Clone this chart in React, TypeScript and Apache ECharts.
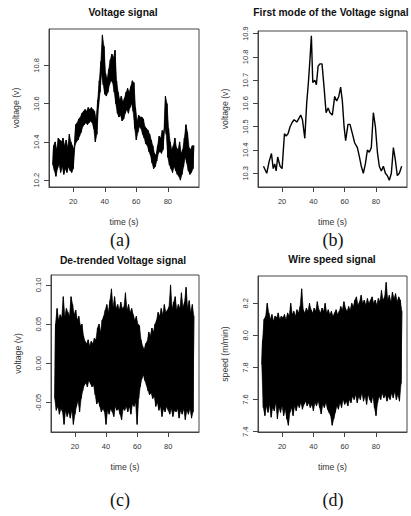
import React, { useEffect, useRef } from "react";
import * as echarts from "echarts";

// first second of the per-second envelopes (t = 7 ... 96)
const T0 = 7;

// (a) Voltage signal: per-second low / high of the noisy trace
const VOLT_LO = [
  10.28, 10.25, 10.22, 10.26, 10.28, 10.24, 10.27, 10.23, 10.26, 10.24,
  10.27, 10.25, 10.24, 10.26, 10.38, 10.40, 10.41, 10.43, 10.45, 10.48,
  10.49, 10.50, 10.49, 10.50, 10.51, 10.50, 10.47, 10.40, 10.44, 10.58,
  10.66, 10.76, 10.70, 10.65, 10.64, 10.66, 10.70, 10.72, 10.71, 10.66,
  10.60, 10.55, 10.53, 10.54, 10.51, 10.52, 10.55, 10.57, 10.55, 10.58,
  10.60, 10.56, 10.47, 10.41, 10.45, 10.48, 10.47, 10.44, 10.42, 10.39,
  10.38, 10.35, 10.33, 10.29, 10.26, 10.27, 10.30, 10.34, 10.35, 10.34,
  10.36, 10.48, 10.44, 10.32, 10.28, 10.26, 10.24, 10.27, 10.25, 10.23,
  10.22, 10.20, 10.23, 10.27, 10.32, 10.29, 10.25, 10.23, 10.24, 10.26,
];
const VOLT_HI = [
  10.38, 10.40, 10.36, 10.42, 10.41, 10.40, 10.42, 10.38, 10.41, 10.37,
  10.44, 10.40, 10.38, 10.36, 10.49, 10.50, 10.52, 10.53, 10.55, 10.56,
  10.57, 10.56, 10.58, 10.57, 10.58, 10.57, 10.56, 10.52, 10.62, 10.72,
  10.82, 10.96, 10.90, 10.76, 10.73, 10.78, 10.83, 10.86, 10.84, 10.88,
  10.72, 10.66, 10.62, 10.64, 10.61, 10.63, 10.66, 10.68, 10.66, 10.69,
  10.72, 10.71, 10.58, 10.51, 10.54, 10.53, 10.53, 10.52, 10.48, 10.47,
  10.46, 10.44, 10.41, 10.38, 10.34, 10.33, 10.38, 10.43, 10.42, 10.46,
  10.45, 10.64, 10.60, 10.47, 10.40, 10.36, 10.38, 10.42, 10.37, 10.36,
  10.40, 10.34, 10.36, 10.42, 10.49, 10.45, 10.37, 10.36, 10.38, 10.38,
];

// (b) First mode of the voltage signal
const MODE_T = [
  8.1, 10.2, 11.7, 13.2, 14.3, 15.3, 16.2, 17.2, 18.7, 20, 21.5, 22.6, 23.8,
  25.1, 26.6, 27.7, 29.4, 31.9, 33, 34.5, 35.7, 36.8, 37.9, 38.7, 39.6, 40.9,
  41.9, 43, 44.3, 45.5, 46.8, 48.1, 49.4, 50.6, 52.1, 53.6, 54.9, 56.2, 57.4,
  58.5, 59.6, 60.6, 62.1, 63.4, 64.9, 66.4, 68.1, 69.4, 70.6, 71.9, 73.2,
  74.5, 75.7, 77, 78.3, 79.6, 80.9, 82.1, 83.4, 84.7, 86, 87.2, 88.5, 89.8,
  91.1, 92.3, 93.6, 94.9, 96.4,
];
const MODE_V = [
  10.33, 10.30, 10.35, 10.385, 10.32, 10.34, 10.31, 10.37, 10.33, 10.32,
  10.47, 10.46, 10.47, 10.50, 10.52, 10.53, 10.52, 10.55, 10.53, 10.45,
  10.60, 10.69, 10.80, 10.89, 10.69, 10.70, 10.68, 10.76, 10.77, 10.77,
  10.67, 10.56, 10.58, 10.56, 10.55, 10.63, 10.61, 10.63, 10.67, 10.61,
  10.50, 10.44, 10.51, 10.51, 10.47, 10.43, 10.41, 10.37, 10.33, 10.30,
  10.34, 10.40, 10.39, 10.41, 10.56, 10.50, 10.39, 10.33, 10.31, 10.33,
  10.30, 10.29, 10.27, 10.30, 10.41, 10.36, 10.29, 10.30, 10.33,
];

// (c) De-trended voltage signal: per-second low / high
const DET_LO = [
  -0.045, -0.060, -0.055, -0.065, -0.058, -0.062, -0.078, -0.060, -0.068, -0.062,
  -0.070, -0.060, -0.078, -0.065, -0.055, -0.048, -0.062, -0.045, -0.035, -0.028,
  -0.025, -0.030, -0.022, -0.026, -0.030, -0.028, -0.040, -0.052, -0.048, -0.055,
  -0.062, -0.058, -0.062, -0.078, -0.060, -0.065, -0.058, -0.062, -0.068, -0.055,
  -0.060, -0.058, -0.065, -0.072, -0.058, -0.060, -0.055, -0.062, -0.055, -0.065,
  -0.052, -0.055, -0.050, -0.078, -0.045, -0.030, -0.020, -0.015, -0.022, -0.028,
  -0.035, -0.040, -0.038, -0.045, -0.042, -0.055, -0.050, -0.060, -0.055, -0.068,
  -0.058, -0.062, -0.055, -0.060, -0.065, -0.058, -0.068, -0.060, -0.062, -0.058,
  -0.070, -0.060, -0.065, -0.058, -0.072, -0.060, -0.065, -0.058, -0.070, -0.062,
];
const DET_HI = [
  0.050, 0.070, 0.055, 0.062, 0.058, 0.085, 0.060, 0.070, 0.065, 0.060,
  0.085, 0.075, 0.062, 0.068, 0.055, 0.060, 0.048, 0.050, 0.035, 0.028,
  0.025, 0.030, 0.022, 0.028, 0.025, 0.032, 0.030, 0.045, 0.050, 0.040,
  0.055, 0.060, 0.068, 0.075, 0.065, 0.080, 0.095, 0.072, 0.085, 0.070,
  0.075, 0.068, 0.078, 0.070, 0.072, 0.090, 0.068, 0.075, 0.065, 0.070,
  0.062, 0.055, 0.060, 0.050, 0.048, 0.030, 0.022, 0.018, 0.025, 0.028,
  0.040, 0.035, 0.045, 0.040, 0.050, 0.055, 0.065, 0.060, 0.070, 0.062,
  0.075, 0.065, 0.068, 0.072, 0.100, 0.070, 0.078, 0.085, 0.068, 0.075,
  0.070, 0.090, 0.072, 0.078, 0.097, 0.070, 0.080, 0.065, 0.075, 0.060,
];

// (d) Wire speed signal: per-second low / high
const SPD_LO = [
  7.82, 7.55, 7.50, 7.56, 7.52, 7.57, 7.49, 7.55, 7.53, 7.58,
  7.48, 7.55, 7.52, 7.56, 7.50, 7.54, 7.48, 7.44, 7.52, 7.55,
  7.50, 7.56, 7.53, 7.57, 7.55, 7.58, 7.54, 7.57, 7.59, 7.56,
  7.58, 7.55, 7.57, 7.53, 7.58, 7.56, 7.59, 7.55, 7.51, 7.57,
  7.55, 7.58, 7.54, 7.52, 7.50, 7.44, 7.48, 7.52, 7.56, 7.54,
  7.58, 7.55, 7.60, 7.57, 7.59, 7.56, 7.60, 7.58, 7.62, 7.60,
  7.63, 7.58, 7.62, 7.60, 7.64, 7.59, 7.62, 7.57, 7.63, 7.60,
  7.58, 7.62, 7.55, 7.50, 7.58, 7.62, 7.60, 7.64, 7.61, 7.63,
  7.59, 7.62, 7.60, 7.64, 7.61, 7.65, 7.60, 7.63, 7.59, 7.70,
];
const SPD_HI = [
  7.97, 8.10, 8.12, 8.20, 8.14, 8.10, 8.13, 8.09, 8.12, 8.11,
  8.14, 8.10, 8.12, 8.11, 8.13, 8.10, 8.14, 8.12, 8.20, 8.13,
  8.15, 8.12, 8.16, 8.14, 8.18, 8.29, 8.16, 8.14, 8.17, 8.15,
  8.20, 8.16, 8.14, 8.17, 8.15, 8.21, 8.16, 8.14, 8.17, 8.15,
  8.20, 8.14, 8.16, 8.13, 8.15, 8.12, 8.14, 8.16, 8.13, 8.15,
  8.18, 8.16, 8.21, 8.17, 8.15, 8.18, 8.16, 8.20, 8.18, 8.22,
  8.24, 8.19, 8.21, 8.25, 8.20, 8.22, 8.19, 8.23, 8.20, 8.22,
  8.24, 8.20, 8.22, 8.19, 8.23, 8.21, 8.28, 8.22, 8.24, 8.33,
  8.22, 8.25, 8.21, 8.27, 8.23, 8.26, 8.21, 8.24, 8.22, 8.15,
];

// tick labels
const X_TICKS = [20, 40, 60, 80];
const VOLT_TICKS = [10.2, 10.4, 10.6, 10.8];
const MODE_TICKS = [10.3, 10.4, 10.5, 10.6, 10.7, 10.8, 10.9];
const DET_TICKS = [-0.05, 0, 0.05, 0.1];
const SPD_TICKS = [7.4, 7.6, 7.8, 8.0, 8.2];

const TITLES = [
  "Voltage signal",
  "First mode of the Voltage signal",
  "De-trended Voltage signal",
  "Wire speed signal",
];
const CAPTIONS = ["(a)", "(b)", "(c)", "(d)"];
const Y_NAMES = ["voltage (v)", "voltage (v)", "voltage (v)", "speed (m/min)"];
const X_NAME = "time (s)";

const SANS = '"Liberation Sans", Arial, Helvetica, sans-serif';
const SERIF = '"Liberation Serif", "Times New Roman", serif';
const INK = "#000";

function zigzag(lo: number[], hi: number[]) {
  const out: number[][] = [];
  const n = Math.min(lo.length, hi.length);
  for (let i = 0; i < n; i++) {
    out.push([T0 + i, lo[i]]);
    out.push([T0 + i + 0.5, hi[i]]);
  }
  return out;
}

function pairs(xs: number[], ys: number[]) {
  const n = Math.min(xs.length, ys.length);
  const out: number[][] = [];
  for (let i = 0; i < n; i++) out.push([xs[i], ys[i]]);
  return out;
}

export default function App() {
  const ref = useRef<HTMLDivElement>(null);

  useEffect(() => {
    if (!ref.current) return;
    const chart = echarts.init(ref.current, undefined, { renderer: "svg" });

    const grids = [
      { left: 49, top: 29, width: 150, height: 158 },
      { left: 258, top: 31, width: 149, height: 156 },
      { left: 51, top: 275, width: 148, height: 157 },
      { left: 258, top: 276, width: 149, height: 156 },
    ];
    const yRanges = [
      { min: 10.164, max: 10.991, ticks: VOLT_TICKS, fmt: (v: number) => v.toFixed(1) },
      { min: 10.241, max: 10.911, ticks: MODE_TICKS, fmt: (v: number) => v.toFixed(1) },
      { min: -0.0877, max: 0.1127, ticks: DET_TICKS, fmt: (v: number) => v.toFixed(2) },
      { min: 7.398, max: 8.37, ticks: SPD_TICKS, fmt: (v: number) => v.toFixed(1) },
    ];
    const X_MIN = 4.6;
    const X_MAX = 99.8;

    const axisCommon = {
      axisLine: { show: true, onZero: false, lineStyle: { color: "#444", width: 1 } },
      splitLine: { show: false },
    };

    const xAxis = grids.map((_, i) => ({
      type: "value",
      gridIndex: i,
      min: X_MIN,
      max: X_MAX,
      name: X_NAME,
      nameLocation: "middle",
      nameGap: 30,
      nameTextStyle: { fontSize: 8.7, color: "#333", fontFamily: SANS },
      ...axisCommon,
      axisTick: { show: true, length: 5, customValues: X_TICKS, lineStyle: { color: "#444" } },
      axisLabel: {
        customValues: X_TICKS,
        fontSize: 7.5,
        margin: 10,
        color: "#333",
        fontFamily: SANS,
        formatter: (v: number) => String(v),
      },
    }));

    const yAxis = yRanges.map((r, i) => ({
      type: "value",
      gridIndex: i,
      min: r.min,
      max: r.max,
      name: Y_NAMES[i],
      nameLocation: "middle",
      nameGap: 29,
      nameRotate: 90,
      nameTextStyle: { fontSize: 8.7, color: "#333", fontFamily: SANS },
      ...axisCommon,
      axisTick: { show: true, length: 5, customValues: r.ticks, lineStyle: { color: "#444" } },
      axisLabel: {
        customValues: r.ticks,
        rotate: 90,
        fontSize: 7.5,
        margin: 9,
        color: "#333",
        fontFamily: SANS,
        formatter: r.fmt,
      },
    }));

    const lineSeries = (i: number, data: number[][], width: number, color = INK) => ({
      type: "line",
      xAxisIndex: i,
      yAxisIndex: i,
      data,
      showSymbol: false,
      symbol: "none",
      silent: true,
      clip: true,
      lineStyle: { color, width },
    });

    // filled envelope band between the per-second low and high values,
    // drawn as one polygon through the axes' own coordinate mapping
    const band = (i: number, lo: number[], hi: number[]) => {
      const n = Math.min(lo.length, hi.length);
      const items: number[][] = [];
      for (let k = 0; k < n; k++) items.push([T0 + k, lo[k], hi[k]]);
      return {
        type: "custom",
        coordinateSystem: "cartesian2d",
        xAxisIndex: i,
        yAxisIndex: i,
        silent: true,
        data: items,
        encode: { x: 0, y: [1, 2] },
        renderItem: (params: any, api: any) => {
          if (params.dataIndex !== 0) return null;
          const pts: number[][] = [];
          for (let k = 0; k < n; k++) pts.push(api.coord([T0 + k + 0.5, hi[k]]));
          for (let k = n - 1; k >= 0; k--) pts.push(api.coord([T0 + k, lo[k]]));
          return {
            type: "polygon",
            shape: { points: pts },
            style: { fill: INK, stroke: INK, lineWidth: 0.6 },
          };
        },
      };
    };

    const titleCenters = [
      [123, 12],
      [331, 12],
      [123, 260],
      [332, 259],
    ];
    const captionCenters = [
      [120, 240],
      [333, 240],
      [120, 500],
      [333, 500],
    ];

    const graphic: any[] = [];
    TITLES.forEach((t, i) => {
      graphic.push({
        type: "text",
        x: titleCenters[i][0],
        y: titleCenters[i][1],
        silent: true,
        style: {
          text: t,
          font: `bold 10.3px ${SANS}`,
          fill: "#111",
          align: "center",
          verticalAlign: "middle",
          textAlign: "center",
          textVerticalAlign: "middle",
        },
      });
    });
    CAPTIONS.forEach((c, i) => {
      graphic.push({
        type: "text",
        x: captionCenters[i][0],
        y: captionCenters[i][1],
        silent: true,
        style: {
          text: c,
          font: `18px ${SERIF}`,
          fill: "#111",
          align: "center",
          verticalAlign: "middle",
          textAlign: "center",
          textVerticalAlign: "middle",
        },
      });
    });

    chart.setOption({
      animation: false,
      backgroundColor: "#fff",
      textStyle: { fontFamily: SANS },
      grid: grids.map((g) => ({
        ...g,
        show: true,
        borderColor: "#444",
        borderWidth: 1,
        backgroundColor: "transparent",
        containLabel: false,
      })),
      xAxis,
      yAxis,
      series: [
        band(0, VOLT_LO, VOLT_HI),
        lineSeries(0, zigzag(VOLT_LO, VOLT_HI), 1),
        lineSeries(1, pairs(MODE_T, MODE_V), 1.4),
        band(2, DET_LO, DET_HI),
        lineSeries(2, zigzag(DET_LO, DET_HI), 0.8),
        band(3, SPD_LO, SPD_HI),
        lineSeries(3, zigzag(SPD_LO, SPD_HI), 0.8),
      ],
      graphic,
    } as any);

    return () => chart.dispose();
  }, []);

  return (
    <div
      ref={ref}
      style={{ position: "absolute", left: 0, top: 0, width: 411, height: 516, background: "#fff" }}
    />
  );
}
